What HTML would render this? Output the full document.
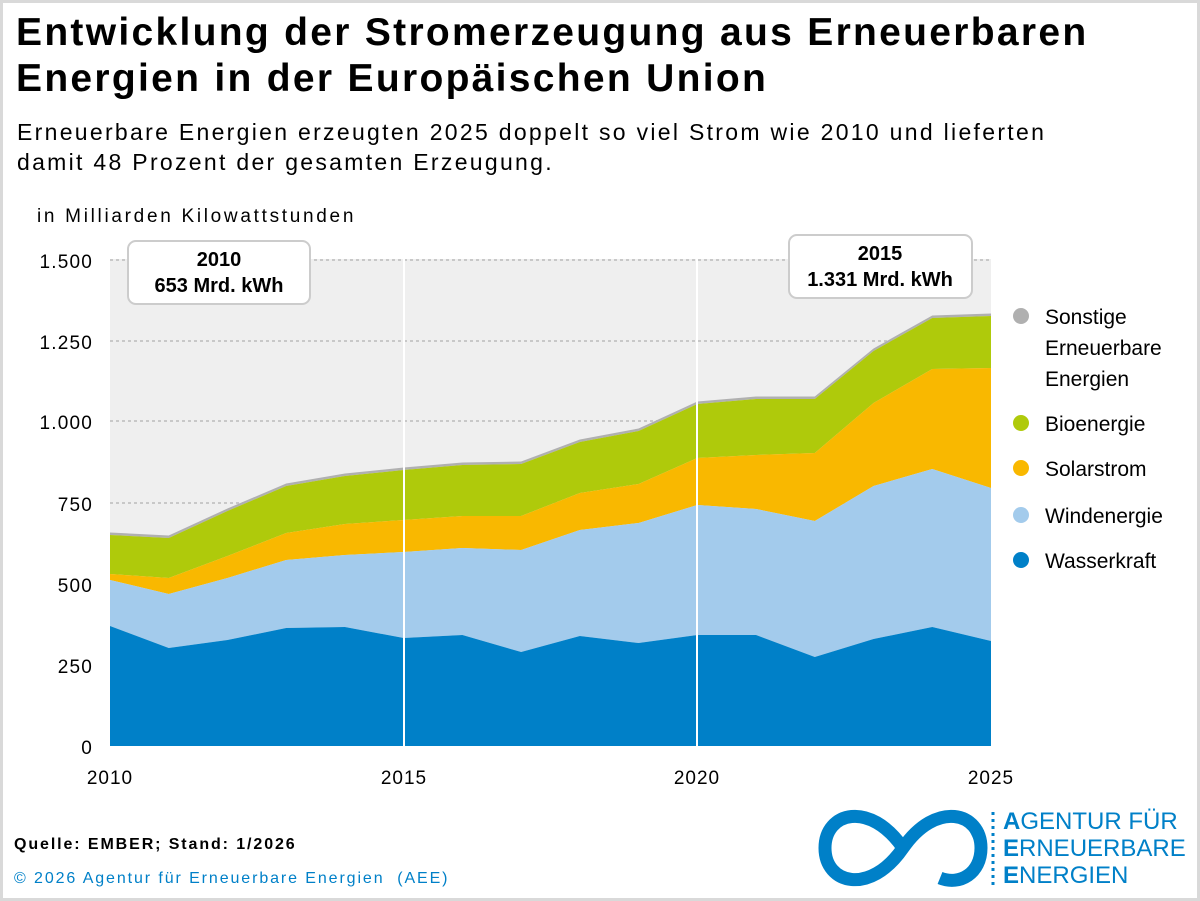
<!DOCTYPE html>
<html><head><meta charset="utf-8"><style>
html,body{margin:0;padding:0}
body{width:1200px;height:901px;overflow:hidden;background:#fff;font-family:"Liberation Sans",sans-serif}
.frame{position:absolute;left:0;top:0;width:1194px;height:895px;border:3px solid #d9d9d9;}
.t{position:absolute;white-space:nowrap;color:#000}
</style></head><body>
<div class="frame"></div>
<div class="t" style="left:16px;top:10px;font-size:39px;font-weight:bold;line-height:46px;letter-spacing:2.3px">Entwicklung der Stromerzeugung aus Erneuerbaren<br>Energien in der Europäischen Union</div>
<div class="t" style="left:17px;top:117px;font-size:23px;line-height:30px;letter-spacing:2.3px">Erneuerbare Energien erzeugten 2025 doppelt so viel Strom wie 2010 und lieferten<br>damit 48 Prozent der gesamten Erzeugung.</div>
<div class="t" style="left:37px;top:206px;font-size:19px;letter-spacing:2.7px">in Milliarden Kilowattstunden</div>
<svg id="c" width="1200" height="901" style="position:absolute;left:0;top:0" font-family="Liberation Sans, sans-serif"></svg>
<div class="t" style="left:14px;top:836px;font-size:16px;font-weight:bold;letter-spacing:1.9px">Quelle: EMBER; Stand: 1/2026</div>
<div class="t" style="left:14px;top:870px;font-size:16px;color:#0080c8;letter-spacing:1.9px">© 2026 Agentur für Erneuerbare Energien &nbsp;(AEE)</div>
<div class="t" style="left:1003px;top:808px;font-size:24px;line-height:27px;color:#0080c8"><b>A</b>GENTUR FÜR<br><b>E</b>RNEUERBARE<br><b>E</b>NERGIEN</div>
<script>
const svg=document.getElementById('c');
const X=i=>110+i*881/15;
const H=[626,648,640,628,627,638,635,652,636,643,635,635,657,639,627,641];
const W=[580,594,578,560,555,552,548,550,530,523,505,509,521,486,469,488];
const S=[574,578,556,533,524,520,516,516,493,484,458,455,453,403,369,368];
const B=[535,538,511,486,476,470,465,464,442,431,404,399,399,351,318,316];
const O=B.map((v,i)=>v-2.5);
let s='<rect x="110" y="259" width="881" height="487" fill="#efefef"/>';
[260,341,421,503].forEach(y=>s+=`<line x1="110" x2="991" y1="${y}" y2="${y}" stroke="#c8c8c8" stroke-width="2" stroke-dasharray="3,3"/>`);
function band(top,bot,col){let p=top.map((v,i)=>`${X(i)},${v}`);for(let i=15;i>=0;i--)p.push(`${X(i)},${bot?bot[i]:746}`);s+=`<polygon points="${p.join(' ')}" fill="${col}"/>`;}
band(O,B,'#b0b0b0');band(B,S,'#afca0b');band(S,W,'#f9b800');band(W,H,'#a3cbec');band(H,null,'#0080c8');
[404,697].forEach(x=>s+=`<line x1="${x}" x2="${x}" y1="259" y2="746" stroke="#fff" stroke-width="2"/>`);
[[0,746],[250,665],[500,584],[750,503],['1.000',421],['1.250',341],['1.500',260]].forEach(([t,y])=>s+=`<text x="93" y="${y+8}" font-size="19" text-anchor="end" letter-spacing="1.2">${t}</text>`);
[[2010,110],[2015,404],[2020,697],[2025,991]].forEach(([t,x])=>s+=`<text x="${x}" y="784" font-size="19" text-anchor="middle" letter-spacing="1">${t}</text>`);
s+='<rect x="128" y="241" width="182" height="63" rx="8" fill="#fff" stroke="#ccc" stroke-width="2"/><text x="219" y="266" font-size="20" font-weight="bold" text-anchor="middle">2010</text><text x="219" y="292" font-size="20" font-weight="bold" text-anchor="middle">653 Mrd. kWh</text>';
s+='<rect x="789" y="235" width="183" height="63" rx="8" fill="#fff" stroke="#ccc" stroke-width="2"/><text x="880" y="260" font-size="20" font-weight="bold" text-anchor="middle">2015</text><text x="880" y="286" font-size="20" font-weight="bold" text-anchor="middle">1.331 Mrd. kWh</text>';
[[316,'#b0b0b0',['Sonstige','Erneuerbare','Energien']],[423,'#afca0b',['Bioenergie']],[468,'#f9b800',['Solarstrom']],[515,'#a3cbec',['Windenergie']],[560,'#0080c8',['Wasserkraft']]].forEach(([y,c,l])=>{s+=`<circle cx="1021" cy="${y}" r="8" fill="${c}"/>`;l.forEach((t,k)=>s+=`<text x="1045" y="${y+8+k*31}" font-size="21">${t}</text>`);});
s+='<path d="M903,848 C870,800 825,812 825,848 C825,884 870,896 903,848 C936,800 981,812 981,848 C981,873 960,886 940,878" fill="none" stroke="#0080c8" stroke-width="13"/><polygon points="968,828 984,830 975,842" fill="#0080c8"/>';
s+='<line x1="993" y1="812" x2="993" y2="888" stroke="#0080c8" stroke-width="3" stroke-dasharray="3,4"/>';
svg.innerHTML=s;
</script>
</body></html>
